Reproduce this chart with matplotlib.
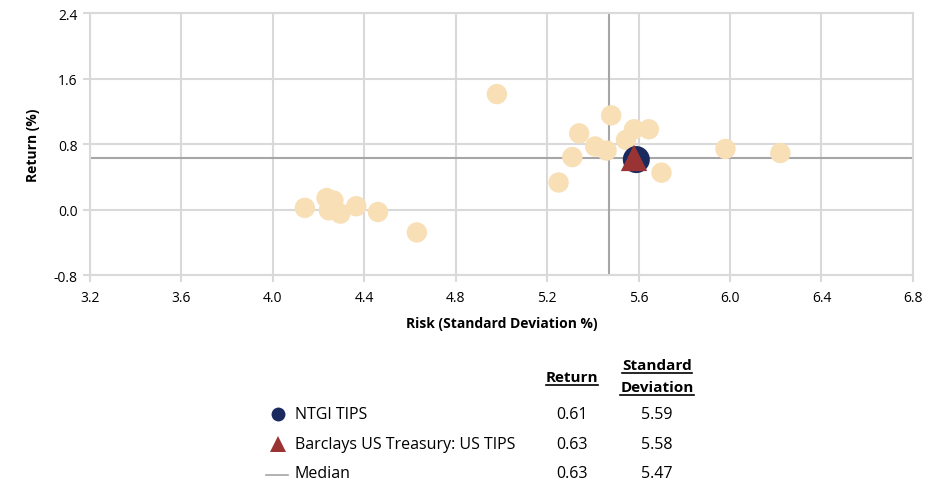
import matplotlib
matplotlib.use("Agg")
import matplotlib.pyplot as plt
from matplotlib.lines import Line2D

plt.rcParams['font.family'] = ['Open Sans', 'DejaVu Sans']

# Peer universe (risk = standard deviation %, return %)
peer_risk = [4.98, 5.48, 5.34, 5.58, 5.645, 5.41, 5.46, 5.545, 5.31, 5.25, 5.70, 5.98, 6.22,
             4.14, 4.235, 4.265, 4.245, 4.295, 4.365, 4.46, 4.63]
peer_return = [1.41, 1.15, 0.93, 0.98, 0.98, 0.77, 0.72, 0.85, 0.64, 0.33, 0.45, 0.74, 0.69,
               0.02, 0.14, 0.11, -0.01, -0.05, 0.04, -0.03, -0.28]

fund_name = "NTGI TIPS"
fund_return = 0.61
fund_risk = 5.59

bench_name = "Barclays US Treasury: US TIPS"
bench_return = 0.63
bench_risk = 5.58

median_return = 0.63
median_risk = 5.47

x_ticks = [3.2, 3.6, 4.0, 4.4, 4.8, 5.2, 5.6, 6.0, 6.4, 6.8]
y_ticks = [-0.8, 0.0, 0.8, 1.6, 2.4]

peer_color = "#f8dfb6"
fund_color = "#1b2a5e"
bench_color = "#9a3434"
median_color = "#a6a6a6"
grid_color = "#d9d9d9"

fig = plt.figure(figsize=(9.4, 4.85), dpi=100)
ax = fig.add_axes([0.0957, 0.4309, 0.8755, 0.5402])

ax.set_xlim(x_ticks[0], x_ticks[-1])
ax.set_ylim(y_ticks[0], y_ticks[-1])
ax.set_xticks(x_ticks)
ax.set_yticks(y_ticks)
ax.set_xticklabels([f"{v:.1f}" for v in x_ticks], fontsize=10)
ax.set_yticklabels([f"{v:.1f}" for v in y_ticks], fontsize=10)
ax.grid(True, color=grid_color, linewidth=1.5, zorder=0)
ax.set_axisbelow(True)
for s in ax.spines.values():
    s.set_color(grid_color)
    s.set_linewidth(1.5)
ax.tick_params(axis='both', length=5, width=1.5, color=grid_color, labelcolor="#000000")
ax.tick_params(axis='x', pad=6)
ax.tick_params(axis='y', pad=4)

ax.axhline(median_return, color=median_color, linewidth=1.5, zorder=1)
ax.axvline(median_risk, color=median_color, linewidth=1.5, zorder=1)

ax.scatter(peer_risk, peer_return, s=215, color=peer_color, edgecolors='none', zorder=2)
ax.scatter([fund_risk], [fund_return], s=380, color=fund_color, edgecolors='none', zorder=3)
ax.scatter([bench_risk], [bench_return], s=360, marker='^', color=bench_color,
           edgecolors='none', zorder=4)

ax.set_xlabel("Risk (Standard Deviation %)", fontsize=10, fontweight='bold', labelpad=8)
ax.set_ylabel("Return (%)", fontsize=10, fontweight='bold', labelpad=10)

# Summary table beneath the chart
W, H = 940.0, 485.0
def fx(px):
    return px / W
def fy(py):
    return 1 - py / H

renderer = fig.canvas.get_renderer()

def underlined(x, y, text, **kw):
    t = fig.text(fx(x), fy(y), text, ha='center', va='center', fontsize=11,
                 fontweight='bold', **kw)
    bb = t.get_window_extent(renderer=renderer)
    uy = bb.y0 - 1
    fig.add_artist(Line2D([bb.x0 / W, bb.x1 / W], [uy / H, uy / H],
                          transform=fig.transFigure, color='black', linewidth=1.2))
    return t

col_ret = 572
col_sd = 657
underlined(col_ret, 378, "Return")
underlined(col_sd, 366, "Standard")
underlined(col_sd, 388, "Deviation")

rows = [
    (fund_name, fund_return, fund_risk, 'o', fund_color),
    (bench_name, bench_return, bench_risk, '^', bench_color),
    ("Median", median_return, median_risk, '_', median_color),
]
row_y = [415, 445, 474]
for (name, r, sd, mk, col), py in zip(rows, row_y):
    if mk == '_':
        fig.add_artist(Line2D([fx(266), fx(288)], [fy(py + 2), fy(py + 2)],
                              transform=fig.transFigure, color=col, linewidth=1.2))
    else:
        fig.add_artist(Line2D([fx(278)], [fy(py)], transform=fig.transFigure,
                              marker=mk, markersize=10 if mk == 'o' else 11,
                              color=col, markeredgewidth=0, linestyle='none'))
    fig.text(fx(295), fy(py), name, ha='left', va='center', fontsize=11.5)
    fig.text(fx(col_ret), fy(py), f"{r:.2f}", ha='center', va='center', fontsize=11.5)
    fig.text(fx(col_sd), fy(py), f"{sd:.2f}", ha='center', va='center', fontsize=11.5)

fig.savefig("out.png", dpi=100)
